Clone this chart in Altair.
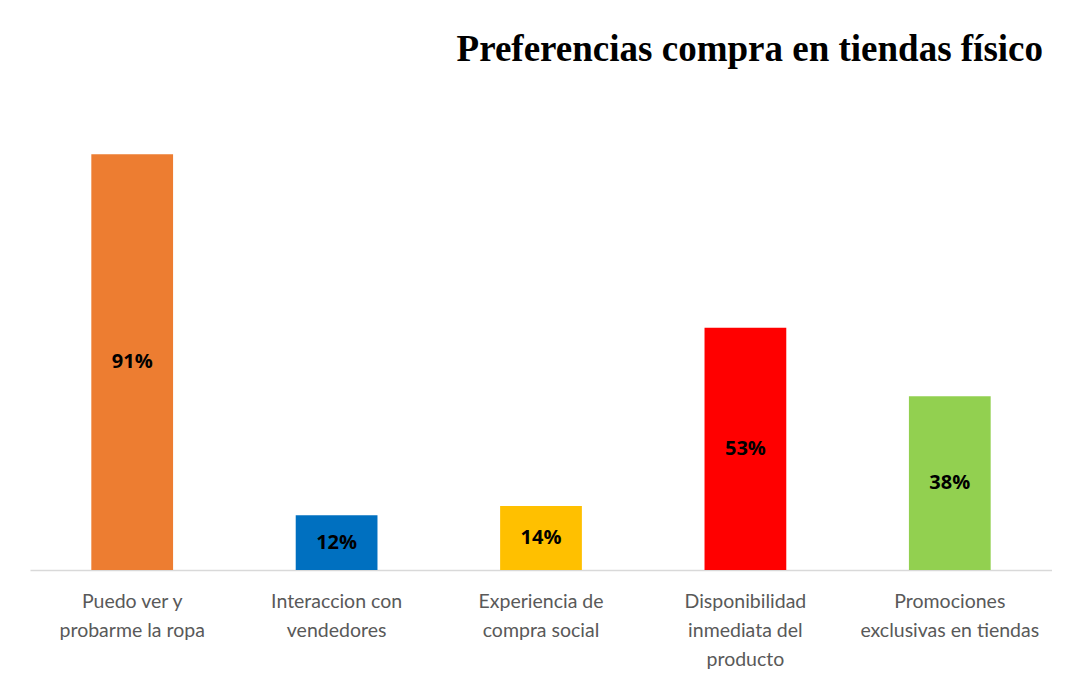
import altair as alt
import pandas as pd

categories = [
    "Puedo ver y\nprobarme la ropa",
    "Interaccion con\nvendedores",
    "Experiencia de\ncompra social",
    "Disponibilidad\ninmediata del\nproducto",
    "Promociones\nexclusivas en tiendas",
]
values = [91, 12, 14, 53, 38]
colors = ["#ED7D31", "#0070C0", "#FFC000", "#FF0000", "#92D050"]

df = pd.DataFrame({"cat": categories, "value": values, "color": colors})
df["label"] = [f"{v}%" for v in values]

x = alt.X(
    "cat:N",
    sort=categories,
    scale=alt.Scale(paddingInner=0.6, paddingOuter=0.3),
    axis=alt.Axis(
        title=None,
        labelAngle=0,
        labelExpr="split(datum.label, '\\n')",
        labelFont="Lato",
        labelFontSize=19.5,
        labelColor="#595959",
        labelLineHeight=29,
        labelPadding=22,
        labelBaseline="top",
        ticks=False,
        domainColor="#D9D9D9",
        domainWidth=1.5,
        grid=False,
    ),
)
yscale = alt.Scale(domain=[0, 100], nice=False)

bars = alt.Chart(df).mark_bar().encode(
    x=x,
    y=alt.Y("value:Q", scale=yscale, axis=None),
    color=alt.Color("color:N", scale=None, legend=None),
)

text = alt.Chart(df).transform_calculate(mid="datum.value / 2").mark_text(
    font="Open Sans", fontSize=20, fontWeight="bold", color="black", baseline="middle"
).encode(
    x=alt.X("cat:N", sort=categories),
    y=alt.Y("mid:Q", scale=yscale, axis=None),
    text="label:N",
)

chart = (
    alt.layer(bars, text)
    .properties(
        width=1022,
        height=457,
        background="white",
        autosize=alt.AutoSizeParams(type="none"),
        padding={"left": 22, "top": 105, "right": 0, "bottom": 110},
        title=alt.TitleParams(
            "Preferencias compra en tiendas físico",
            anchor="end",
            font="Liberation Serif",
            fontSize=37,
            fontWeight="bold",
            color="black",
            offset=44,
            dx=-9,
        ),
    )
    .configure_view(strokeWidth=0, stroke="transparent")
    .configure_axis(grid=False)
)

chart.save("out.html", embed_options={"renderer": "svg", "actions": False})
